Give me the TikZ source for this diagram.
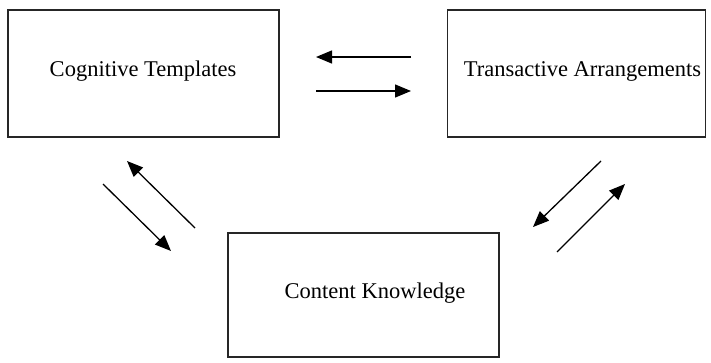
\documentclass[tikz,border=0pt]{standalone}
\usepackage{fontspec}
\setmainfont{Liberation Serif}
\newfontfamily\labelfont{Liberation Serif}
\usetikzlibrary{arrows.meta}
\begin{document}
\begin{tikzpicture}[x=1pt,y=-1pt,
  box/.style={draw=black!85,line width=1.1pt,minimum width=#1,inner sep=0pt,anchor=center},
  lbl/.style={font=\labelfont\fontsize{22.5}{27}\selectfont,text=black},
  arr/.style={line width=1.3pt,-{Triangle[length=16pt,width=13pt]}}]
\useasboundingbox (0,0) rectangle (711,362);
\node[box=271pt,minimum height=127pt] (ct) at (143.5,73.5) {};
\node[lbl] (ctl) at (143,71) {Cognitive Templates};
\node[box=258pt,minimum height=127pt] (ta) at (576.5,73.5) {};
\node[lbl] (tal) at (582.5,71) {Transactive Arrangements};
\node[box=271pt,minimum height=124pt] (ck) at (363.5,295) {};
\node[lbl] (ckl) at (375,293) {Content Knowledge};
% top arrows
\coordinate (a1s) at (411,57); \coordinate (a1e) at (316,57);
\coordinate (a2s) at (316,91); \coordinate (a2e) at (411,91);
\draw[arr] (a1s) -- (a1e);
\draw[arr] (a2s) -- (a2e);
% left arrows
\coordinate (b1s) at (195,228); \coordinate (b1e) at (127,161);
\coordinate (b2s) at (103,184); \coordinate (b2e) at (171,251);
\draw[arr] (b1s) -- (b1e);
\draw[arr] (b2s) -- (b2e);
% right arrows
\coordinate (c1s) at (601,161); \coordinate (c1e) at (533,227);
\coordinate (c2s) at (557,252); \coordinate (c2e) at (625,184);
\draw[arr] (c1s) -- (c1e);
\draw[arr] (c2s) -- (c2e);
\end{tikzpicture}
\end{document}
